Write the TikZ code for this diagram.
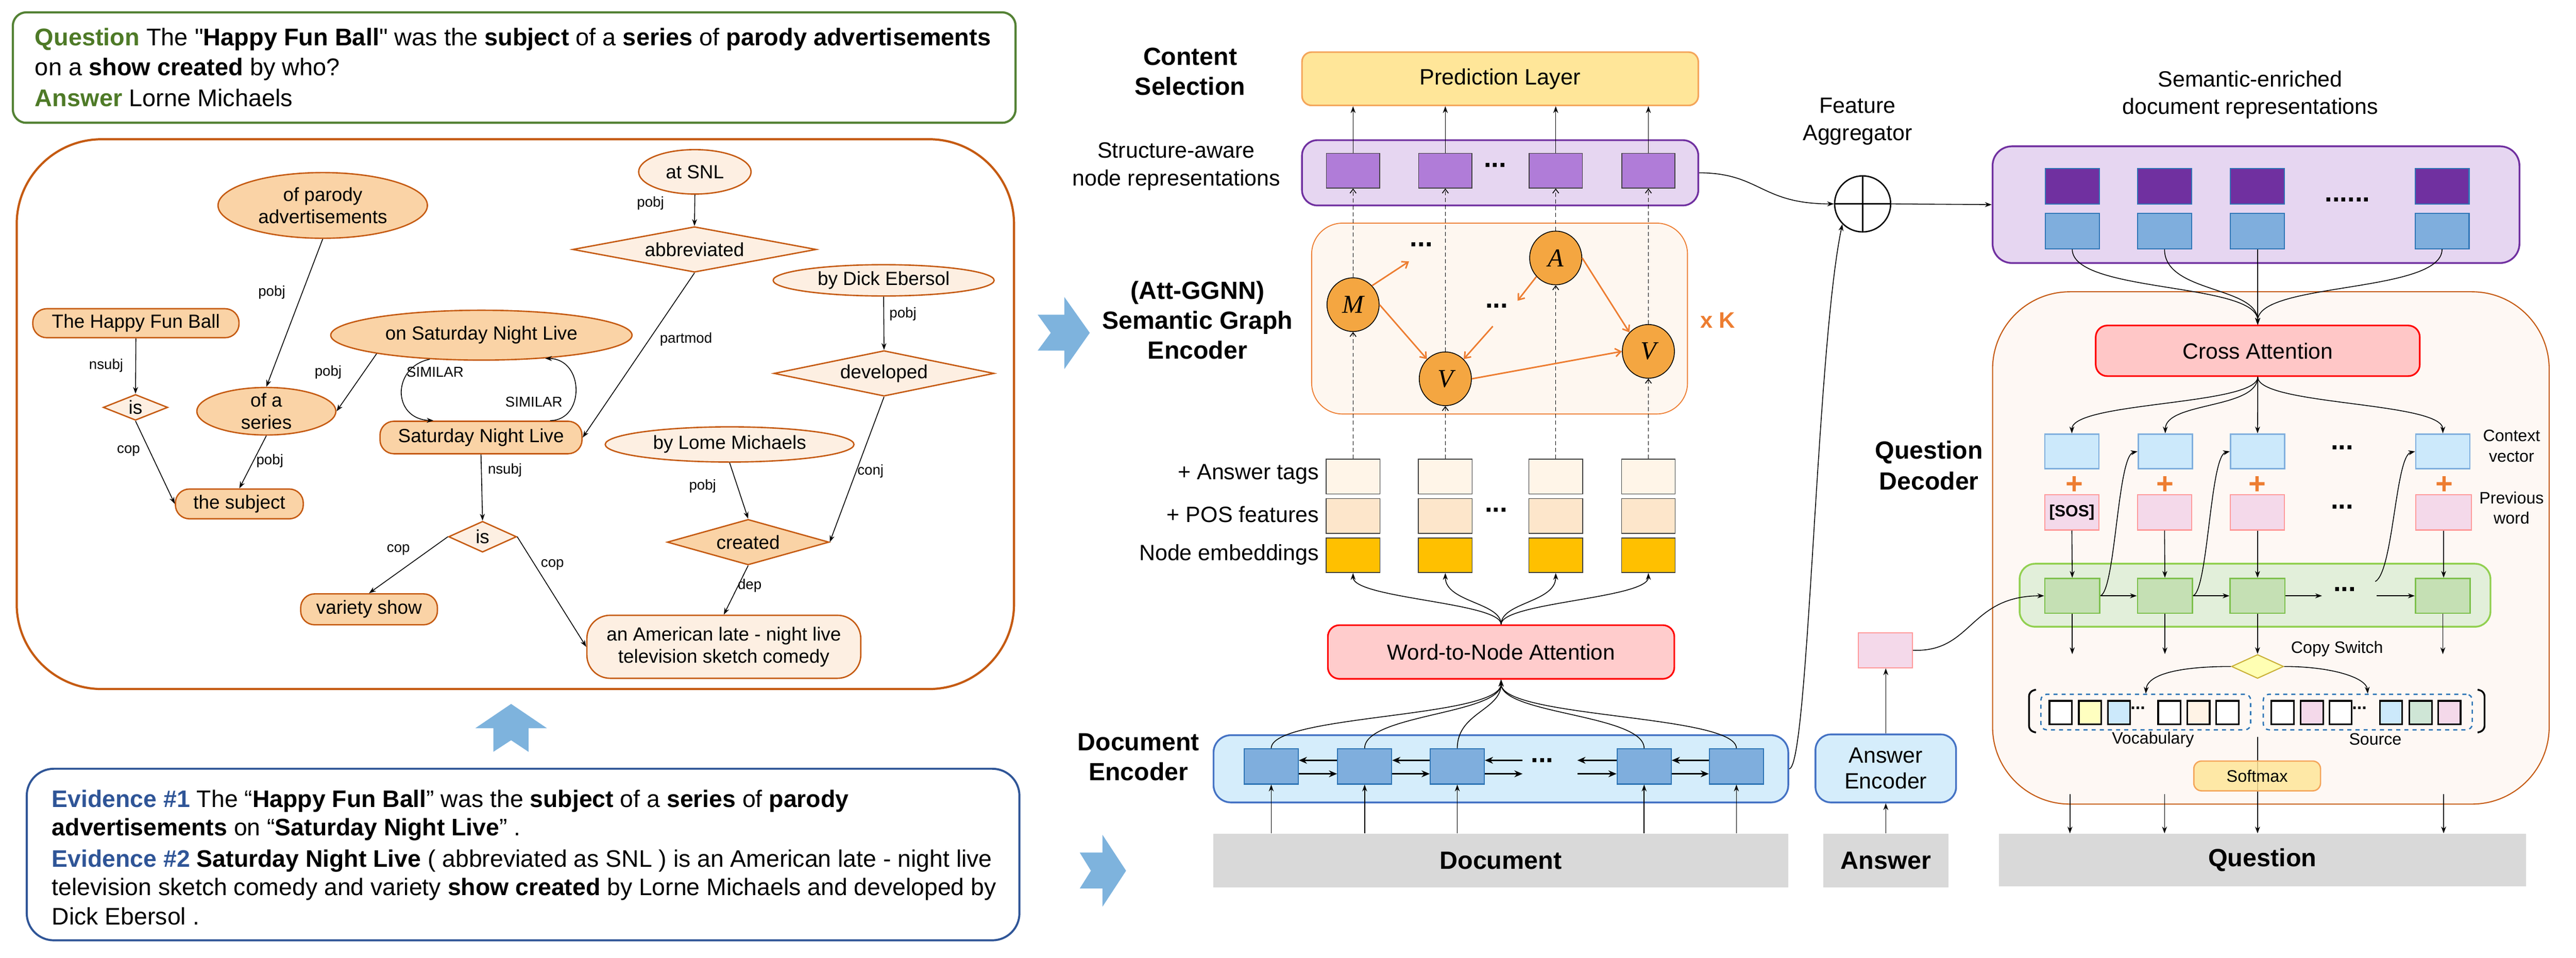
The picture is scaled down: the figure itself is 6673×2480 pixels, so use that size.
\documentclass[tikz,border=0pt]{standalone}
\usepackage{fontspec}
\setmainfont{Liberation Sans}
\newfontfamily\plainq{Liberation Sans}
\newfontfamily\serifit{Liberation Serif}
\usetikzlibrary{shapes.geometric,arrows.meta,calc}
\definecolor{qgreen}{HTML}{548235}
\definecolor{qlabel}{HTML}{4E7A27}
\definecolor{gorange}{HTML}{C55A11}
\definecolor{ndark}{HTML}{FAD3A6}
\definecolor{nlight}{HTML}{FDEFE2}
\definecolor{chev}{HTML}{7EB3DD}
\definecolor{evblue}{HTML}{2F5597}
\definecolor{predfill}{HTML}{FFE699}
\definecolor{predline}{HTML}{F4A55A}
\definecolor{lav}{HTML}{E6D6F1}
\definecolor{purp}{HTML}{7030A0}
\definecolor{midpurp}{HTML}{B07CD8}
\definecolor{encfill}{HTML}{FEF7F0}
\definecolor{orangeA}{HTML}{ED7D31}
\definecolor{circfill}{HTML}{F4A641}
\definecolor{ansfill}{HTML}{FFF5E8}
\definecolor{posfill}{HTML}{FDE6CB}
\definecolor{embfill}{HTML}{FFC000}
\definecolor{attfill}{HTML}{FFCCCC}
\definecolor{crossfill}{HTML}{FFC7C7}
\definecolor{docfill}{HTML}{D5EDFB}
\definecolor{docline}{HTML}{4472C4}
\definecolor{sqblue}{HTML}{7FAEDD}
\definecolor{sqblueline}{HTML}{2E75B6}
\definecolor{barfill}{HTML}{D9D9D9}
\definecolor{decfill}{HTML}{FEF8F4}
\definecolor{ctxfill}{HTML}{CCE9FB}
\definecolor{pinkfill}{HTML}{F4D9EA}
\definecolor{pinkline}{HTML}{FF9999}
\definecolor{grnbox}{HTML}{E2EFDA}
\definecolor{grnline}{HTML}{92D050}
\definecolor{grnsq}{HTML}{C5E0B4}
\definecolor{grnsqline}{HTML}{7CC04B}
\definecolor{switchfill}{HTML}{FFFFB3}
\definecolor{switchline}{HTML}{C9B037}
\definecolor{vyellow}{HTML}{FFFFC0}
\definecolor{vpeach}{HTML}{FFF3E6}
\definecolor{vgreen}{HTML}{CFE6D6}
\tikzset{
  qtext/.style={anchor=base west, inner sep=0pt, font=\fontsize{17.6}{21}\selectfont},
  qqtext/.style={anchor=base west, inner sep=0pt, font=\fontsize{17.8}{21}\selectfont},
  gshape/.style={draw=gorange, line width=1pt, inner sep=0pt},
  gell/.style={gshape, ellipse},
  grect/.style={gshape, rectangle, rounded corners=0.36cm},
  gdia/.style={gshape, diamond},
  gtext/.style={font=\fontsize{14}{16.3}\selectfont, align=center, inner sep=0pt},
  elab/.style={font=\fontsize{10.5}{12}\selectfont, inner sep=0pt},
  garrow/.style={-{Stealth[length=5pt,width=3.6pt]}, line width=0.6pt},
  lbl/.style={font=\fontsize{16.3}{20.2}\selectfont, align=center, inner sep=0pt},
  blbl/.style={font=\bfseries\fontsize{18.3}{22}\selectfont, align=center, inner sep=0pt},
  slbl/.style={font=\fontsize{12.2}{15}\selectfont, align=center, inner sep=0pt},
  dots/.style={font=\bfseries\fontsize{20}{20}\selectfont, inner sep=0pt, anchor=base},
  sdots/.style={font=\bfseries\fontsize{13}{13}\selectfont, inner sep=0pt, anchor=base},
  box/.style={rectangle, inner sep=0pt},
  sarrow/.style={-{Stealth[length=5pt,width=3.6pt]}, line width=0.6pt},
  darrow/.style={-{Straight Barb[length=3pt,width=4.5pt]}, line width=0.6pt, dash pattern=on 3pt off 2pt},
  oarrow/.style={-{Straight Barb[length=4pt,width=6pt]}, line width=1.1pt, draw=orangeA},
  harrow/.style={-{Stealth[length=6pt,width=5pt]}, line width=1.1pt},
  circ/.style={ellipse, draw=black, line width=0.6pt, fill=circfill, minimum width=1.35cm, minimum height=1.39cm, inner sep=0pt, font=\serifit\itshape\fontsize{19}{19}\selectfont},
  purpsq/.style={box, draw=black!75, line width=0.6pt, fill=midpurp, minimum width=1.38cm, minimum height=0.9cm},
  featsq/.style={box, draw=black!75, line width=0.6pt, minimum width=1.39cm, minimum height=0.9cm},
  encsq/.style={box, draw=sqblueline, line width=0.8pt, fill=sqblue, minimum width=1.4cm, minimum height=0.91cm},
  semsq/.style={box, draw=sqblueline, line width=0.8pt, minimum width=1.4cm, minimum height=0.92cm},
  ctxsq/.style={box, draw=sqblue, line width=1pt, fill=ctxfill, minimum width=1.4cm, minimum height=0.9cm},
  pwsq/.style={box, draw=pinkline, line width=0.8pt, fill=pinkfill, minimum width=1.4cm, minimum height=0.91cm},
  grsq/.style={box, draw=grnsqline, line width=1pt, fill=grnsq, minimum width=1.42cm, minimum height=0.9cm},
  vrect/.style={box, draw=black, line width=1.2pt, minimum width=0.58cm, minimum height=0.61cm},
  plus/.style={font=\bfseries\fontsize{22}{22}\selectfont, text=orangeA, inner sep=0pt},
  barbox/.style={box, fill=barfill, font=\bfseries\fontsize{18.4}{20}\selectfont}
}
\begin{document}
\begin{tikzpicture}[x=0.01cm,y=-0.01cm]
\useasboundingbox (0,0) rectangle (6673,2480);

% ================= Question box =================
\node[box, draw=qgreen, line width=1.6pt, rounded corners=0.35cm, minimum width=25.96cm, minimum height=2.86cm] (qbox) at (1332,175) {};
\node[qqtext] (q1) at (90,118) {\textcolor{qlabel}{\textbf{Question}} The {\plainq"}\textbf{Happy Fun Ball}{\plainq"} was the \textbf{subject} of a \textbf{series} of \textbf{parody advertisements}};
\node[qqtext] (q2) at (90,196) {on a \textbf{show created} by who?};
\node[qqtext] (q3) at (90,275) {\textcolor{qlabel}{\textbf{Answer}} Lorne Michaels};

% ================= Graph box =================
\node[box, draw=gorange, line width=1.6pt, rounded corners=2.2cm, minimum width=25.82cm, minimum height=14.23cm] (gbox) at (1335,1072.5) {};

\node[gell, fill=ndark, minimum width=5.42cm, minimum height=1.70cm] (padv) at (836,532) {};
\node[gtext] at (padv) {of parody\\advertisements};
\node[grect, fill=ndark, minimum width=5.34cm, minimum height=0.75cm] (hfb) at (352,837) {};
\node[gtext] at (hfb) {The Happy Fun Ball};
\node[gdia, fill=nlight, minimum width=1.67cm, minimum height=0.67cm] (isA) at (351,1055) {};
\node[gtext] at (isA) {is};
\node[gell, fill=ndark, minimum width=3.6cm, minimum height=1.23cm] (series) at (690,1065) {};
\node[gtext] at (series) {of a\\series};
\node[grect, fill=ndark, minimum width=3.31cm, minimum height=0.77cm] (subj) at (620,1305) {};
\node[gtext] at (subj) {the subject};
\node[gell, fill=ndark, minimum width=7.8cm, minimum height=1.29cm] (osnl) at (1247,868) {};
\node[gtext] at (osnl) {on Saturday Night Live};
\node[grect, fill=ndark, minimum width=5.23cm, minimum height=0.84cm] (snl) at (1246,1133) {};
\node[gtext] at (snl) {Saturday Night Live};
\node[gdia, fill=nlight, minimum width=1.76cm, minimum height=0.80cm] (isB) at (1250,1390) {};
\node[gtext] at (isB) {is};
\node[grect, fill=ndark, minimum width=3.54cm, minimum height=0.80cm] (vshow) at (956,1578) {};
\node[gtext] at (vshow) {variety show};
\node[grect, rounded corners=0.6cm, fill=nlight, minimum width=7.09cm, minimum height=1.63cm] (amer) at (1875,1675) {};
\node[gtext] at (amer) {an American late - night live\\television sketch comedy};
\node[gell, fill=nlight, minimum width=2.91cm, minimum height=1.15cm] (atsnl) at (1800,445) {};
\node[gtext] at (atsnl) {at SNL};
\node[gdia, fill=nlight, minimum width=6.31cm, minimum height=1.18cm] (abbr) at (1799,646) {};
\node[gtext] at (abbr) {abbreviated};
\node[gell, fill=nlight, minimum width=5.72cm, minimum height=0.81cm] (dick) at (2289,726) {};
\node[gtext] at (dick) {by Dick Ebersol};
\node[gdia, fill=nlight, minimum width=5.70cm, minimum height=1.18cm] (dev) at (2290,967) {};
\node[gtext] at (dev) {developed};
\node[gell, fill=nlight, minimum width=6.44cm, minimum height=0.91cm] (lome) at (1890,1151) {};
\node[gtext] at (lome) {by Lome Michaels};
\node[gdia, fill=ndark, minimum width=4.19cm, minimum height=1.18cm] (created) at (1938,1404) {};
\node[gtext] at (created) {created};

\draw[garrow] (padv.south) -- (series.north);
\draw[garrow] (hfb.south) -- (isA.north);
\draw[garrow] (isA.south) -- (subj.west);
\draw[garrow] (osnl.190) -- (series.east);
\draw[garrow] (series.south) -- (subj.north);
\draw[garrow] (osnl.205) .. controls (1015,950) and (1015,1085) .. ($(snl.north)+(-123,0)$);
\draw[garrow] ($(snl.north)+(179,0)$) .. controls (1515,1089) and (1515,930) .. (osnl.340);
\draw[garrow] (atsnl.south) -- (abbr.north);
\draw[garrow] (abbr.south) -- (snl.east);
\draw[garrow] (dick.south) -- (dev.north);
\draw[garrow] (dev.south) -- (created.east);
\draw[garrow] (lome.south) -- (created.north);
\draw[garrow] (created.south) -- (amer.north);
\draw[garrow] (snl.south) -- (isB.north);
\draw[garrow] (isB.west) -- (vshow.north);
\draw[garrow] (isB.east) -- (amer.west);

\node[elab] at (704,757) {pobj};
\node[elab] at (275,947) {nsubj};
\node[elab] at (333,1168) {cop};
\node[elab] at (850,964) {pobj};
\node[elab] at (699,1194) {pobj};
\node[elab] at (1127,964) {SIMILAR};
\node[elab] at (1383,1041) {SIMILAR};
\node[elab] at (1308,1217) {nsubj};
\node[elab] at (1032,1424) {cop};
\node[elab] at (1431,1463) {cop};
\node[elab] at (1942,1516) {dep};
\node[elab] at (1685,526) {pobj};
\node[elab] at (1777,879) {partmod};
\node[elab] at (2339,813) {pobj};
\node[elab] at (2255,1220) {conj};
\node[elab] at (1820,1259) {pobj};

% up chevron
\fill[chev] (1324,1823) -- (1417,1886) -- (1369,1886) -- (1369,1947) -- (1324,1917) -- (1278,1947) -- (1278,1886) -- (1231,1886) -- cycle;

% ================= Evidence box =================
\node[box, draw=evblue, line width=1.5pt, rounded corners=0.7cm, minimum width=25.7cm, minimum height=4.44cm] (evbox) at (1355,2213) {};
\node[qtext] (ev1) at (134,2091) {\textcolor{evblue}{\textbf{Evidence \#1}} The “\textbf{Happy Fun Ball}” was the \textbf{subject} of a \textbf{series} of \textbf{parody}};
\node[qtext] (ev2) at (134,2164) {\textbf{advertisements} on “\textbf{Saturday Night Live}” .};
\node[qtext] (ev3) at (134,2246) {\textcolor{evblue}{\textbf{Evidence \#2}} \textbf{Saturday Night Live} ( abbreviated as SNL ) is an American late - night live};
\node[qtext] (ev4) at (134,2319) {television sketch comedy and variety \textbf{show created} by Lorne Michaels and developed by};
\node[qtext] (ev5) at (134,2395) {Dick Ebersol .};

% right chevrons
\fill[chev] (2688,815) -- (2757,815) -- (2757,769) -- (2823,862) -- (2757,956) -- (2757,908) -- (2688,908) -- (2722,862) -- cycle;
\fill[chev] (2797,2208) -- (2856,2208) -- (2856,2162) -- (2917,2255) -- (2856,2348) -- (2856,2301) -- (2797,2301) -- (2826,2255) -- cycle;

% ================= Middle column =================
\node[blbl] at (3083,185) {Content\\Selection};
\node[box, draw=predline, line width=1.2pt, fill=predfill, rounded corners=0.25cm, minimum width=10.26cm, minimum height=1.38cm, font=\fontsize{16.4}{19}\selectfont] (pred) at (3886,204) {Prediction Layer};
\node[box, draw=purp, line width=1.3pt, fill=lav, rounded corners=0.4cm, minimum width=10.26cm, minimum height=1.69cm] (struct) at (3886,447.5) {};
\node[lbl] at (3047,431) {Structure-aware\\node representations};
\node[purpsq] (pr1) at (3505,442) {};
\node[purpsq] (pr2) at (3744,442) {};
\node[purpsq] (pr3) at (4030,442) {};
\node[purpsq] (pr4) at (4270,442) {};
\node[dots] at (3873,433) {...};
\foreach \p in {pr1,pr2,pr3,pr4} {\draw[sarrow] (\p.north) -- (\p.north |- pred.south);}

\node[box, draw=orangeA, line width=0.7pt, fill=encfill, rounded corners=0.8cm, minimum width=9.73cm, minimum height=4.94cm] (genc) at (3884.5,825) {};
\node[blbl] at (3102,829) {(Att-GGNN)\\Semantic Graph\\Encoder};
\node[font=\bfseries\fontsize{16.5}{16.5}\selectfont, text=orangeA, inner sep=0pt] at (4450,829) {x K};

\node[featsq, fill=ansfill] (a1) at (3505,1234) {};
\node[featsq, fill=ansfill] (a2) at (3744,1234) {};
\node[featsq, fill=ansfill] (a3) at (4030,1234) {};
\node[featsq, fill=ansfill] (a4) at (4270,1234) {};
\node[featsq, fill=posfill] (p1) at (3505,1336) {};
\node[featsq, fill=posfill] (p2) at (3744,1336) {};
\node[featsq, fill=posfill] (p3) at (4030,1336) {};
\node[featsq, fill=posfill] (p4) at (4270,1336) {};
\node[featsq, fill=embfill] (m1) at (3505,1438) {};
\node[featsq, fill=embfill] (m2) at (3744,1438) {};
\node[featsq, fill=embfill] (m3) at (4030,1438) {};
\node[featsq, fill=embfill] (m4) at (4270,1438) {};
\node[dots] at (3876,1326) {...};
\node[lbl, anchor=base east] at (3417,1242) {+ Answer tags};
\node[lbl, anchor=base east] at (3417,1353) {+ POS features};
\node[lbl, anchor=base east] at (3417,1451) {Node embeddings};

% circles
\node[circ] (M) at (3505,789) {M};
\node[circ] (V1) at (3744,981) {V};
\node[circ] (A) at (4030,668) {A};
\node[circ] (V2) at (4270,910) {V};
\draw[darrow] (a1.north) -- (M.south);  \draw[darrow] (M.north) -- (pr1.south);
\draw[darrow] (a2.north) -- (V1.south); \draw[darrow] (V1.north) -- (pr2.south);
\draw[darrow] (a3.north) -- (A.south);  \draw[darrow] (A.north) -- (pr3.south);
\draw[darrow] (a4.north) -- (V2.south); \draw[darrow] (V2.north) -- (pr4.south);
\node[dots] at (3682,638) {...};
\node[dots] at (3877,797) {...};
\coordinate (o1) at (3650,677);
\coordinate (o2) at (3931,779);
\coordinate (o3) at (3867,845);
\draw[oarrow] (M.45) -- (o1);
\draw[oarrow] (M.east) -- (V1.133);
\draw[oarrow] (A.224) -- (o2);
\draw[oarrow] (o3) -- (V1.47);
\draw[oarrow] (A.east) -- (V2.135);
\draw[oarrow] (V1.east) -- (V2.west);

% word-to-node
\node[box, draw=red, line width=1.2pt, fill=attfill, rounded corners=0.3cm, minimum width=8.97cm, minimum height=1.39cm, font=\fontsize{16}{19}\selectfont] (wna) at (3888.5,1688.5) {Word-to-Node Attention};
\draw[sarrow] (wna.north) .. controls (3888.5,1560) and (3505,1550) .. (m1.south);
\draw[sarrow] (wna.north) .. controls (3888.5,1560) and (3744,1560) .. (m2.south);
\draw[sarrow] (wna.north) .. controls (3888.5,1560) and (4030,1560) .. (m3.south);
\draw[sarrow] (wna.north) .. controls (3888.5,1560) and (4270,1550) .. (m4.south);

% document encoder
\node[box, draw=docline, line width=1.3pt, fill=docfill, rounded corners=0.45cm, minimum width=14.88cm, minimum height=1.74cm] (denc) at (3888,1991) {};
\node[blbl] at (2949,1961) {Document\\Encoder};
\node[encsq] (e1) at (3293,1985) {};
\node[encsq] (e2) at (3535,1985) {};
\node[encsq] (e3) at (3775,1985) {};
\node[encsq] (e4) at (4259,1985) {};
\node[encsq] (e5) at (4498,1985) {};
\draw[sarrow] (e1.north) .. controls (3293,1850) and (3888.5,1860) .. (wna.south);
\draw[sarrow] (e2.north) .. controls (3535,1850) and (3888.5,1850) .. (wna.south);
\draw[sarrow] (e3.north) .. controls (3775,1845) and (3888.5,1840) .. (wna.south);
\draw[sarrow] (e4.north) .. controls (4259,1850) and (3888.5,1850) .. (wna.south);
\draw[sarrow] (e5.north) .. controls (4498,1850) and (3888.5,1860) .. (wna.south);
\draw[harrow] ($(e2.west)+(0,-16)$) -- ($(e1.east)+(0,-16)$);
\draw[harrow] ($(e1.east)+(0,19)$) -- ($(e2.west)+(0,19)$);
\draw[harrow] ($(e3.west)+(0,-16)$) -- ($(e2.east)+(0,-16)$);
\draw[harrow] ($(e2.east)+(0,19)$) -- ($(e3.west)+(0,19)$);
\draw[harrow] ($(e5.west)+(0,-16)$) -- ($(e4.east)+(0,-16)$);
\draw[harrow] ($(e4.east)+(0,19)$) -- ($(e5.west)+(0,19)$);
\coordinate (hl1) at (3944,1969);
\coordinate (hl2) at (3944,2004);
\coordinate (hr1) at (4086,1969);
\coordinate (hr2) at (4086,2004);
\draw[harrow] (hl1) -- ($(e3.east)+(0,-16)$);
\draw[harrow] ($(e3.east)+(0,19)$) -- (hl2);
\draw[harrow] ($(e4.west)+(0,-16)$) -- (hr1);
\draw[harrow] (hr2) -- ($(e4.west)+(0,19)$);
\node[dots] at (3995,1975) {...};

\node[barbox, minimum width=14.89cm, minimum height=1.39cm] (dbar) at (3887.5,2228.5) {Document};
\foreach \e in {e1,e2,e3,e4,e5} {\draw[sarrow] (\e.south |- dbar.north) -- (\e.south);}

% ================= Feature aggregator =================
\node[lbl] at (4812,315) {Feature\\Aggregator};
\node[circle, draw=black, line width=1pt, minimum size=1.45cm, inner sep=0pt] (oplus) at (4825,528) {};
\draw[line width=1pt] (oplus.north) -- (oplus.south);
\draw[line width=1pt] (oplus.west) -- (oplus.east);
\draw[sarrow] (struct.east) .. controls (4560,448) and (4560,528) .. (oplus.west);
\draw[sarrow] (denc.east) .. controls (4685,1990) and (4705,900) .. (oplus.225);

% ================= Right column =================
\node[lbl] at (5829,245) {Semantic-enriched\\document representations};
\node[box, draw=purp, line width=1.3pt, fill=lav, rounded corners=0.5cm, minimum width=13.64cm, minimum height=3.02cm] (sem) at (5844,530) {};
\draw[sarrow] (oplus.east) -- (sem.west);
\node[semsq, fill=purp] (s1) at (5368,482) {};
\node[semsq, fill=purp] (s2) at (5607,482) {};
\node[semsq, fill=purp] (s3) at (5848,482) {};
\node[semsq, fill=purp] (s4) at (6326,482) {};
\node[semsq, fill=sqblue] (b1) at (5368,598) {};
\node[semsq, fill=sqblue] (b2) at (5607,598) {};
\node[semsq, fill=sqblue] (b3) at (5848,598) {};
\node[semsq, fill=sqblue] (b4) at (6326,598) {};
\node[dots] at (6081,522) {......};

\node[box, draw=gorange, line width=0.8pt, fill=decfill, rounded corners=2cm, minimum width=14.41cm, minimum height=13.26cm] (qdec) at (5882.5,1419) {};
\node[blbl, font=\bfseries\fontsize{18.3}{22.8}\selectfont] at (4997,1205) {Question\\Decoder};

\node[box, draw=red, line width=1.2pt, fill=crossfill, rounded corners=0.3cm, minimum width=8.39cm, minimum height=1.31cm, font=\fontsize{16.2}{19}\selectfont] (cross) at (5848.5,908.5) {Cross Attention};
\draw[sarrow] (b1.south) .. controls (5368,760) and (5848.5,730) .. (cross.north);
\draw[sarrow] (b2.south) .. controls (5607,760) and (5848.5,740) .. (cross.north);
\draw[sarrow] (b3.south) -- (b3.south |- cross.north);
\draw[sarrow] (b4.south) .. controls (6326,760) and (5848.5,730) .. (cross.north);

\node[ctxsq] (c1) at (5367,1169) {};
\node[ctxsq] (c2) at (5609,1169) {};
\node[ctxsq] (c3) at (5848,1169) {};
\node[ctxsq] (c4) at (6328,1169) {};
\node[dots] at (6067,1164) {...};
\node[slbl] at (6506,1155) {Context\\vector};
\draw[sarrow] (cross.south) .. controls (5848.5,1050) and (5367,1040) .. (c1.north);
\draw[sarrow] (cross.south) .. controls (5848.5,1060) and (5609,1040) .. (c2.north);
\draw[sarrow] (cross.south) -- (c3.north);
\draw[sarrow] (cross.south) .. controls (5848.5,1050) and (6328,1040) .. (c4.north);

\node[plus] at (5373,1256) {+};
\node[plus] at (5609,1256) {+};
\node[plus] at (5847,1256) {+};
\node[plus] at (6332,1256) {+};

\node[pwsq, font=\bfseries\fontsize{12}{12}\selectfont] (pw1) at (5367,1327) {[SOS]};
\node[pwsq] (pw2) at (5607,1327) {};
\node[pwsq] (pw3) at (5848,1327) {};
\node[pwsq, minimum width=1.45cm] (pw4) at (6330,1327) {};
\node[dots] at (6067,1318) {...};
\node[slbl] at (6506,1315) {Previous\\word};

\node[box, draw=grnline, line width=1.3pt, fill=grnbox, rounded corners=0.4cm, minimum width=12.19cm, minimum height=1.63cm] (gru) at (5841.5,1541.5) {};
\node[grsq] (g1) at (5368,1543) {};
\node[grsq] (g2) at (5608,1543) {};
\node[grsq] (g3) at (5848,1543) {};
\node[grsq] (g4) at (6328,1543) {};
\draw[sarrow] (pw1.south) -- (g1.north);
\draw[sarrow] (pw2.south) -- (g2.north);
\draw[sarrow] (pw3.south) -- (g3.north);
\draw[sarrow] (pw4.south) -- (pw4.south |- g4.north);
\draw[sarrow] (g1.east) -- (g2.west);
\draw[sarrow] (g2.east) -- (g3.west);
\coordinate (gd1) at (6015,1543);
\coordinate (gd2) at (6157,1543);
\coordinate (gd3) at (6153,1506);
\draw[sarrow] (g3.east) -- (gd1);
\draw[sarrow] (gd2) -- (g4.west);
\node[dots] at (6074,1531) {...};
\draw[sarrow] (g1.east) .. controls (5480,1530) and (5485,1180) .. (c2.west);
\draw[sarrow] (g2.east) .. controls (5720,1530) and (5725,1180) .. (c3.west);
\draw[sarrow] (gd3) .. controls (6200,1480) and (6205,1180) .. (c4.west);

% copy switch
\coordinate (dn1) at (5368,1694);
\coordinate (dn2) at (5608,1694);
\coordinate (dn4) at (6328,1694);
\draw[sarrow] (g1.south) -- (dn1);
\draw[sarrow] (g2.south) -- (dn2);
\draw[sarrow] (g4.south) -- (dn4);
\node[diamond, draw=switchline, fill=switchfill, line width=0.8pt, minimum width=1.35cm, minimum height=0.62cm, inner sep=0pt] (sw) at (5848,1726) {};
\draw[sarrow] (g3.south) -- (sw.north);
\node[slbl] at (6054,1680) {Copy Switch};

\node[box, draw=sqblueline, dashed, line width=1pt, rounded corners=0.15cm, minimum width=5.43cm, minimum height=0.92cm] (vocab) at (5558.5,1844) {};
\node[box, draw=sqblueline, dashed, line width=1pt, rounded corners=0.15cm, minimum width=5.41cm, minimum height=0.92cm] (src) at (6133.5,1844) {};
\draw[sarrow] (sw.west) .. controls (5650,1726) and (5562,1745) .. (vocab.north);
\draw[sarrow] (sw.east) .. controls (6040,1726) and (6130,1755) .. (src.north);
\draw[line width=1.3pt, rounded corners=0.12cm] (5274,1786) -- (5256,1791) -- (5256,1892) -- (5274,1897);
\draw[line width=1.3pt, rounded corners=0.12cm] (6418,1786) -- (6436,1791) -- (6436,1892) -- (6418,1897);
\node[vrect, fill=white] (v1) at (5338,1845.5) {};
\node[vrect, fill=vyellow] (v2) at (5414,1845.5) {};
\node[vrect, fill=ctxfill] (v3) at (5489,1845.5) {};
\node[vrect, fill=white] (v4) at (5619.5,1845.5) {};
\node[vrect, fill=vpeach] (v5) at (5695,1845.5) {};
\node[vrect, fill=white] (v6) at (5770,1845.5) {};
\node[vrect, fill=white] (r1) at (5913,1845.5) {};
\node[vrect, fill=pinkfill] (r2) at (5989,1845.5) {};
\node[vrect, fill=white] (r3) at (6063,1845.5) {};
\node[vrect, fill=ctxfill] (r4) at (6194,1845.5) {};
\node[vrect, fill=vgreen] (r5) at (6270.5,1845.5) {};
\node[vrect, fill=pinkfill] (r6) at (6345,1845.5) {};
\node[sdots] at (5538,1837) {...};
\node[sdots] at (6112,1837) {...};
\node[slbl] at (5577,1915) {Vocabulary};
\node[slbl] at (6153,1915) {Source};

\node[barbox, minimum width=13.65cm, minimum height=1.37cm] (qbar) at (5860.5,2227.5) {Question};
\coordinate (vl) at (5848,1908);
\draw[sarrow] (vl) -- (vl |- qbar.north);
\node[box, draw=predline, line width=1pt, fill=predfill, fill opacity=0.85, text opacity=1, rounded corners=0.2cm, minimum width=3.28cm, minimum height=0.77cm, font=\fontsize{12.3}{14}\selectfont] (smax) at (5847,2009.5) {Softmax};
\coordinate (ql1) at (5362,2057);
\coordinate (ql2) at (5607,2057);
\coordinate (ql4) at (6330,2057);
\draw[sarrow] (ql1) -- (ql1 |- qbar.north);
\draw[sarrow] (ql2) -- (ql2 |- qbar.north);
\draw[sarrow] (ql4) -- (ql4 |- qbar.north);

% answer
\node[pwsq] (ansq) at (4884,1684) {};
\node[box, draw=docline, line width=1.3pt, fill=docfill, rounded corners=0.4cm, minimum width=3.64cm, minimum height=1.76cm, font=\fontsize{16.3}{19}\selectfont, align=center] (aenc) at (4885,1990) {Answer\\Encoder};
\node[barbox, minimum width=3.24cm, minimum height=1.39cm] (abar) at (4885,2228.5) {Answer};
\draw[sarrow] (aenc.north) -- (aenc.north |- ansq.south);
\draw[sarrow] (abar.north) -- (aenc.south);
\draw[sarrow] (ansq.east) .. controls (5110,1690) and (5100,1543) .. (g1.west);
\end{tikzpicture}
\end{document}
